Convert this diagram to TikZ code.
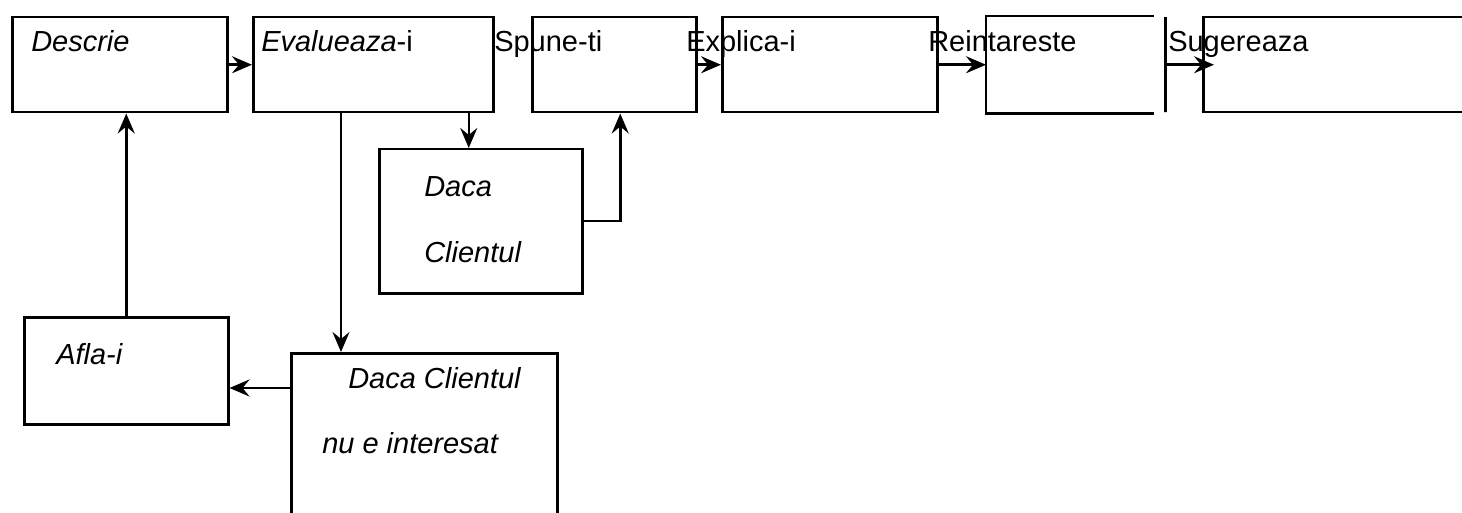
\documentclass[tikz,border=0pt]{standalone}
\usepackage{fontspec}
\setmainfont{Liberation Sans}
\usetikzlibrary{arrows.meta}

\begin{document}
\begin{tikzpicture}[x=1pt,y=-1pt,
  line width=2.5pt, line join=miter,
  stepbox/.style={draw, rectangle, inner sep=0pt, anchor=north west},
  frame/.style={rectangle, inner sep=0pt, anchor=north west},
  label/.style={inner sep=0pt, anchor=base west,
    font=\fontsize{29}{34}\selectfont},
  arr/.style={-{Stealth[length=20pt,width=17pt,inset=7pt]}}]

\useasboundingbox (0,0) rectangle (1462,513);
\clip (0,0) rectangle (1462,513);

% top row of steps
\node[stepbox, minimum width=215pt, minimum height=95pt] (descrie) at (11,16) {};
\node[stepbox, minimum width=240pt, minimum height=95pt] (evalueaza) at (252,16) {};
\node[stepbox, minimum width=164pt, minimum height=95pt] (spune) at (531,16) {};
\node[stepbox, minimum width=215pt, minimum height=95pt] (explica) at (721,16) {};
\node[frame, minimum width=165pt, minimum height=95pt] (reintareste) at (986,16) {};
\draw (reintareste.north east) -- (reintareste.north west)
      -- (reintareste.south west) -- (reintareste.south east);
\node[stepbox, minimum width=0pt, minimum height=95pt] (divider) at (1164,16) {};
\node[stepbox, minimum width=300pt, minimum height=95pt] (sugereaza) at (1202,16) {};

% branch boxes
\node[stepbox, minimum width=203pt, minimum height=144pt] (dacaA) at (378,148) {};
\node[stepbox, minimum width=266pt, minimum height=200pt] (dacaB) at (290,352) {};
\node[stepbox, minimum width=204pt, minimum height=107pt] (afla) at (23,316) {};

% texts
\node[label] (tDescrie) at (30,52) {\itshape Descrie};
\node[label] (tEvalueaza) at (260,52) {\textit{Evalueaza}-i};
\node[label] (tSpune) at (493,52) {Spune-ti};
\node[label] (tExplica) at (685,52) {Explica-i};
\node[label] (tReintareste) at (927,52) {Reintareste};
\node[label] (tSugereaza) at (1167,52) {Sugereaza};
\node[label] (tDacaA1) at (423,197) {\itshape Daca};
\node[label] (tDacaA2) at (423,262) {\itshape Clientul};
\node[label] (tAfla) at (55,364) {\itshape Afla-i};
\node[label] (tDacaB1) at (347,388) {\itshape Daca Clientul};
\node[label] (tDacaB2) at (321,453) {\itshape nu e interesat};

% connector end points along box sides
\coordinate (dacaBout) at ([yshift=-36pt]dacaB.north west);
\coordinate (evalDown) at ([xshift=89pt]evalueaza.south west);

% connectors
\draw[arr] (descrie.east) -- (evalueaza.west);
\draw[arr] (spune.east) -- (explica.west);
\draw[arr] (explica.east) -- (reintareste.west);
\draw[arr] (divider.center) -- ([xshift=12pt]sugereaza.west);
\draw[arr] ([xshift=-12pt]dacaA.north |- evalueaza.south) -- ([xshift=-12pt]dacaA.north);
\draw[arr] (dacaA.east) -| ([xshift=6pt]spune.south);
\draw[arr] (evalDown) -- (evalDown |- dacaB.north);
\draw[arr] (dacaBout) -- (afla.east |- dacaBout);
\draw[arr] (afla.north) -- (afla.north |- descrie.south);

\end{tikzpicture}
\end{document}
